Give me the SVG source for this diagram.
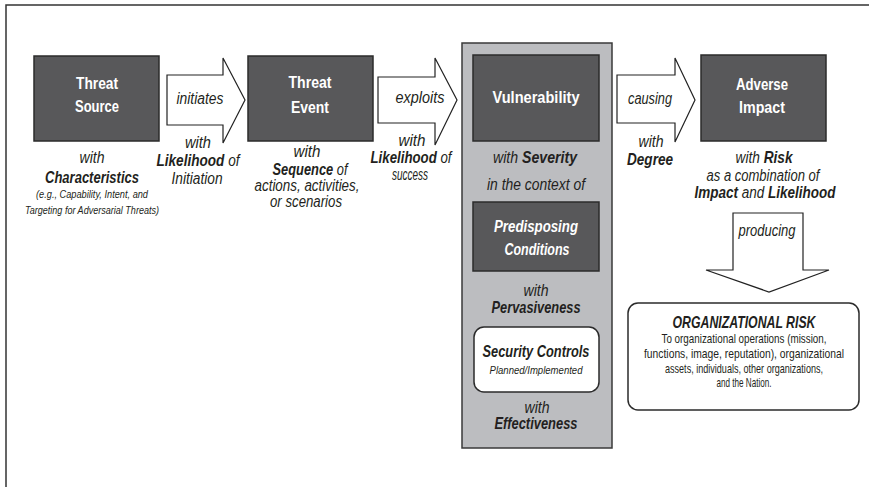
<svg xmlns="http://www.w3.org/2000/svg" width="869" height="487" viewBox="0 0 869 487">
<style>
.frame{fill:none;stroke:#333;stroke-width:1.5}
.box{fill:#58585a;stroke:#2b2b2b;stroke-width:1.5}
.panel{fill:#bcbdc0;stroke:#3a3a3a;stroke-width:1.5}
.rbox{fill:#fff;stroke:#2b2b2b;stroke-width:1.5}
.arrow{fill:#fff;stroke:#222;stroke-width:1.2;stroke-linejoin:miter}
text{font-family:"Liberation Sans",Arial,sans-serif;text-anchor:middle;fill:#231f20}
.title{font-weight:bold;font-size:13.6px;fill:#fff}
.wt{font-weight:bold;font-style:italic;font-size:13.6px;fill:#fff}
.it{font-style:italic;font-size:13px}
.b{font-weight:bold}
.small{font-style:italic;font-size:9px}
.org{font-style:italic;font-weight:bold;font-size:13px}
.body{font-size:9.6px}
</style>
<path class="frame" d="M6,487 V5 H869"/>
<g id="connectors">
<polygon class="arrow" points="167,75 223,75 223,58 245,100 223,143 223,125 167,125"/>
<polygon class="arrow" points="378,77 435,77 435,58 457,100 435,145 435,123 378,123"/>
<polygon class="arrow" points="617,75 675,75 675,58 695,100 675,142 675,123 617,123"/>
<polygon class="arrow" points="733,213 803,213 803,270 829,270 769,292 706,270 733,270"/>
<text class="it" transform="translate(200,104) scale(1,1.25)" textLength="47" lengthAdjust="spacingAndGlyphs">initiates</text>
<text class="it" transform="translate(198,148) scale(1,1.25)" textLength="26" lengthAdjust="spacingAndGlyphs">with</text>
<text class="it" transform="translate(198,166) scale(1,1.25)" textLength="83" lengthAdjust="spacingAndGlyphs"><tspan class="b">Likelihood</tspan> of</text>
<text class="it" transform="translate(197,184) scale(1,1.25)" textLength="51" lengthAdjust="spacingAndGlyphs">Initiation</text>
<text class="it" transform="translate(420,103) scale(1,1.25)" textLength="49" lengthAdjust="spacingAndGlyphs">exploits</text>
<text class="it" transform="translate(412,146) scale(1,1.25)" textLength="27" lengthAdjust="spacingAndGlyphs">with</text>
<text class="it" transform="translate(411,163) scale(1,1.25)" textLength="81" lengthAdjust="spacingAndGlyphs"><tspan class="b">Likelihood</tspan> of</text>
<text class="it" transform="translate(410,180) scale(1,1.25)" textLength="36" lengthAdjust="spacingAndGlyphs">success</text>
<text class="it" transform="translate(650,104) scale(1,1.25)" textLength="44" lengthAdjust="spacingAndGlyphs">causing</text>
<text class="it" transform="translate(651,147) scale(1,1.25)" textLength="25" lengthAdjust="spacingAndGlyphs">with</text>
<text class="it b" transform="translate(650,165) scale(1,1.25)" textLength="46" lengthAdjust="spacingAndGlyphs">Degree</text>
<text class="it" transform="translate(767,236) scale(1,1.25)" textLength="57" lengthAdjust="spacingAndGlyphs">producing</text>
</g>
<g id="threat-source">
<rect class="box" x="34" y="56" width="125" height="85"/>
<text class="title" transform="translate(97,89) scale(1,1.25)" textLength="42" lengthAdjust="spacingAndGlyphs">Threat</text>
<text class="title" transform="translate(97,112) scale(1,1.25)" textLength="44" lengthAdjust="spacingAndGlyphs">Source</text>
<text class="it" transform="translate(92,163) scale(1,1.25)" textLength="25" lengthAdjust="spacingAndGlyphs">with</text>
<text class="it b" transform="translate(92,183) scale(1,1.25)" textLength="94" lengthAdjust="spacingAndGlyphs">Characteristics</text>
<text class="small" transform="translate(92,198) scale(1,1.25)" textLength="112" lengthAdjust="spacingAndGlyphs">(e.g., Capability, Intent, and</text>
<text class="small" transform="translate(92,214) scale(1,1.25)" textLength="134" lengthAdjust="spacingAndGlyphs">Targeting for Adversarial Threats)</text>
</g>
<g id="threat-event">
<rect class="box" x="248" y="56" width="125" height="85"/>
<text class="title" transform="translate(310,88) scale(1,1.25)" textLength="43" lengthAdjust="spacingAndGlyphs">Threat</text>
<text class="title" transform="translate(310,113) scale(1,1.25)" textLength="38" lengthAdjust="spacingAndGlyphs">Event</text>
<text class="it" transform="translate(307,157) scale(1,1.25)" textLength="27" lengthAdjust="spacingAndGlyphs">with</text>
<text class="it" transform="translate(310,175) scale(1,1.25)" textLength="75" lengthAdjust="spacingAndGlyphs"><tspan class="b">Sequence</tspan> of</text>
<text class="it" transform="translate(307,191) scale(1,1.25)" textLength="105" lengthAdjust="spacingAndGlyphs">actions, activities,</text>
<text class="it" transform="translate(306,207) scale(1,1.25)" textLength="72" lengthAdjust="spacingAndGlyphs">or scenarios</text>
</g>
<g id="vulnerability-panel">
<rect class="panel" x="462" y="43" width="150" height="405"/>
</g>
<g id="vulnerability">
<rect class="box" x="473" y="55" width="126" height="86"/>
<text class="title" transform="translate(536,103) scale(1,1.25)" textLength="87" lengthAdjust="spacingAndGlyphs">Vulnerability</text>
<text class="it" transform="translate(535,163) scale(1,1.25)" textLength="84" lengthAdjust="spacingAndGlyphs">with <tspan class="b">Severity</tspan></text>
<text class="it" transform="translate(536,190) scale(1,1.25)" textLength="98" lengthAdjust="spacingAndGlyphs">in the context of</text>
</g>
<g id="predisposing-conditions">
<rect class="box" x="473" y="202" width="126" height="69"/>
<text class="wt" transform="translate(536,232) scale(1,1.25)" textLength="84" lengthAdjust="spacingAndGlyphs">Predisposing</text>
<text class="wt" transform="translate(537,255) scale(1,1.25)" textLength="65" lengthAdjust="spacingAndGlyphs">Conditions</text>
<text class="it" transform="translate(536,296) scale(1,1.25)" textLength="25" lengthAdjust="spacingAndGlyphs">with</text>
<text class="it b" transform="translate(536,313) scale(1,1.25)" textLength="89" lengthAdjust="spacingAndGlyphs">Pervasiveness</text>
</g>
<g id="security-controls">
<rect class="rbox" x="474" y="327" width="125" height="65" rx="10"/>
<text class="it b" transform="translate(536,357) scale(1,1.25)" textLength="107" lengthAdjust="spacingAndGlyphs">Security Controls</text>
<text class="small" transform="translate(536,374) scale(1,1.25)" textLength="93" lengthAdjust="spacingAndGlyphs">Planned/Implemented</text>
<text class="it" transform="translate(537,413) scale(1,1.25)" textLength="25" lengthAdjust="spacingAndGlyphs">with</text>
<text class="it b" transform="translate(536,429) scale(1,1.25)" textLength="83" lengthAdjust="spacingAndGlyphs">Effectiveness</text>
</g>
<g id="adverse-impact">
<rect class="box" x="701" y="55" width="125" height="86"/>
<text class="title" transform="translate(762,90) scale(1,1.25)" textLength="52" lengthAdjust="spacingAndGlyphs">Adverse</text>
<text class="title" transform="translate(762,113) scale(1,1.25)" textLength="46" lengthAdjust="spacingAndGlyphs">Impact</text>
<text class="it" transform="translate(764,163) scale(1,1.25)" textLength="57" lengthAdjust="spacingAndGlyphs">with <tspan class="b">Risk</tspan></text>
<text class="it" transform="translate(763,181) scale(1,1.25)" textLength="113" lengthAdjust="spacingAndGlyphs">as a combination of</text>
<text class="it" transform="translate(765,198) scale(1,1.25)" textLength="141" lengthAdjust="spacingAndGlyphs"><tspan class="b">Impact</tspan> and <tspan class="b">Likelihood</tspan></text>
</g>
<g id="organizational-risk">
<rect class="rbox" x="628" y="303" width="231" height="107" rx="10"/>
<text class="org" transform="translate(744,328) scale(1,1.25)" textLength="143" lengthAdjust="spacingAndGlyphs">ORGANIZATIONAL RISK</text>
<text class="body" transform="translate(744,343) scale(1,1.25)" textLength="165" lengthAdjust="spacingAndGlyphs">To organizational operations (mission,</text>
<text class="body" transform="translate(744,358) scale(1,1.25)" textLength="200" lengthAdjust="spacingAndGlyphs">functions, image, reputation), organizational</text>
<text class="body" transform="translate(744,373) scale(1,1.25)" textLength="158" lengthAdjust="spacingAndGlyphs">assets, individuals, other organizations,</text>
<text class="body" transform="translate(744,387) scale(1,1.25)" textLength="55" lengthAdjust="spacingAndGlyphs">and the Nation.</text>
</g>
</svg>
